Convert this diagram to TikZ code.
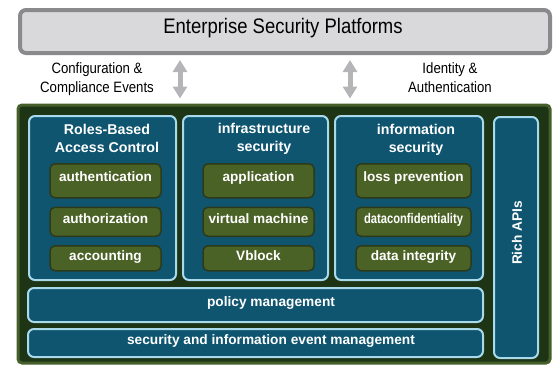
\documentclass[tikz,border=0pt]{standalone}
\usepackage{fontspec}
\setmainfont{Liberation Sans}
\newfontfamily\narrowfont{Liberation Sans}[FakeStretch=0.88]
\newfontfamily\tightfont{Liberation Sans}[FakeStretch=0.8]
\usetikzlibrary{arrows.meta, positioning}

\definecolor{platformfill}{HTML}{D9D9DB}
\definecolor{platformedge}{HTML}{8A8A8C}
\definecolor{basefill}{HTML}{1D3415}
\definecolor{baseedge}{HTML}{465F2A}
\definecolor{panelfill}{HTML}{0F5570}
\definecolor{paneledge}{HTML}{A8DAEC}
\definecolor{itemfill}{HTML}{4B6226}
\definecolor{itemedge}{HTML}{2B3A1B}
\definecolor{syncgray}{HTML}{B5B5B7}

\tikzset{
  platform/.style={
    rectangle,
    rounded corners=6pt,
    draw=platformedge,
    fill=platformfill,
    line width=4pt,
    anchor=north west,
    inner sep=0pt
  },
  base/.style={
    rectangle,
    rounded corners=4pt,
    draw=baseedge,
    fill=basefill,
    line width=3pt,
    anchor=north west,
    inner sep=0pt
  },
  panel/.style={
    rectangle,
    rounded corners=6pt,
    draw=paneledge,
    fill=panelfill,
    line width=2pt,
    anchor=north west,
    inner sep=0pt
  },
  item/.style={
    rectangle,
    rounded corners=5pt,
    draw=itemedge,
    fill=itemfill,
    line width=1.5pt,
    minimum width=111pt,
    inner sep=0pt,
    text=white,
    text height=9.5pt,
    text depth=6pt,
    font=\fontsize{13.6}{15}\selectfont\bfseries
  },
  head/.style={
    align=center,
    text=white,
    font=\fontsize{14.2}{18}\selectfont\bfseries
  },
  barlabel/.style={
    text=white,
    font=\fontsize{13.7}{15}\selectfont\bfseries
  },
  note/.style={
    align=center,
    font=\narrowfont\fontsize{15}{19}\selectfont
  },
  syncarrow/.style={
    {Triangle[width=14pt,length=12pt]}-{Triangle[width=14pt,length=12pt]},
    line width=5pt,
    draw=syncgray,
    shorten <=5pt,
    shorten >=5pt
  }
}

\begin{document}
\begin{tikzpicture}[x=1pt, y=-1pt]
  \useasboundingbox (0,0) rectangle (553,365);

  % security platforms on top
  \node[platform, minimum width=530pt, minimum height=43pt] (platforms) at (18,8) {};
  \node[font=\narrowfont\fontsize{21}{24}\selectfont] (platforms-title) at (283,28)
        {Enterprise Security Platforms};

  % green base with the security blocks
  \node[base, minimum width=532pt, minimum height=258pt] (base) at (16.5,103.5) {};

  \coordinate (sync-cfg) at (180,0);
  \coordinate (sync-id) at (350,0);
  \draw[syncarrow] (platforms.south -| sync-cfg) -- (base.north -| sync-cfg);
  \draw[syncarrow] (platforms.south -| sync-id) -- (base.north -| sync-id);

  \node[note] (cfg-events) at (97,79) {Configuration \&\\Compliance Events};
  \node[note] (id-auth) at (450,78) {Identity \&\\Authentication};

  % access control
  \node[panel, minimum width=147pt, minimum height=164pt] (rbac) at (28,115) {};
  \node[head] (rbac-title) at (107,138) {Roles-Based\\Access Control};
  \node[item, minimum height=34pt, text depth=9pt, anchor=north] (authn) at (105.5,163)
        {authentication};
  \node[item, minimum height=29pt, below=8pt of authn] (authz) {authorization};
  \node[item, minimum height=25pt, below=8pt of authz] (acct) {accounting};

  % infrastructure
  \node[panel, minimum width=145pt, minimum height=164pt] (infra) at (182,115) {};
  \node[head] (infra-title) at (264,139) {infrastructure\\security};
  \node[item, minimum height=34pt, text depth=9pt, anchor=north] (app) at (258.5,163)
        {application};
  \node[item, minimum height=29pt, below=8pt of app] (vm) {virtual machine};
  \node[item, minimum height=25pt, below=8pt of vm] (vblock) {Vblock};

  % information
  \node[panel, minimum width=148pt, minimum height=164pt] (info) at (334,115) {};
  \node[head] (info-title) at (416,140) {information\\security};
  \node[item, minimum width=115pt, minimum height=34pt, text depth=9pt, anchor=north] (loss)
        at (413.5,163) {loss prevention};
  \node[item, minimum width=115pt, minimum height=29pt, below=8pt of loss,
        font=\tightfont\fontsize{14}{15}\selectfont\bfseries] (conf) {dataconfidentiality};
  \node[item, minimum width=115pt, minimum height=25pt, below=8pt of conf] (integ)
        {data integrity};

  % APIs column
  \node[panel, minimum width=44pt, minimum height=241pt] (apis) at (493,116) {};
  \node[barlabel, rotate=90] (apis-title) at (517,233) {Rich APIs};

  % management bars
  \node[panel, minimum width=455pt, minimum height=34pt] (policy) at (27,287) {};
  \node[barlabel] (policy-title) at (271,303) {policy management};
  \node[panel, minimum width=455pt, minimum height=28pt] (siem) at (27,328) {};
  \node[barlabel] (siem-title) at (271,341) {security and information event management};
\end{tikzpicture}
\end{document}
